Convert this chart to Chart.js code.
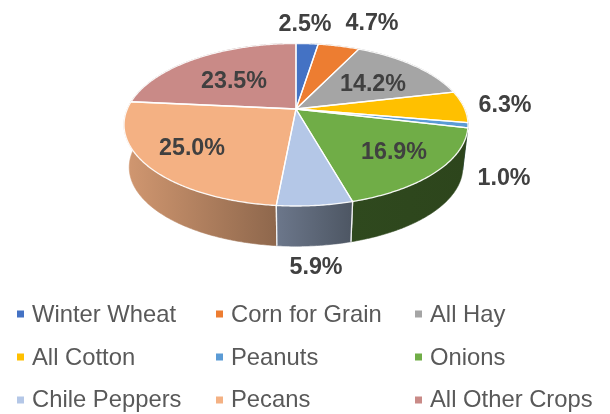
<!DOCTYPE html>
<html><head><meta charset="utf-8">
<script src="https://cdn.jsdelivr.net/npm/chart.js@4"></script>
<style>html,body{margin:0;padding:0;background:#fff}canvas{display:block;filter:blur(.4px)}</style>
</head><body><canvas id="c" width="610" height="414"></canvas>
<script>
const categories = ["Winter Wheat","Corn for Grain","All Hay","All Cotton","Peanuts","Onions","Chile Peppers","Pecans","All Other Crops"];
const shares = [2.5,4.7,14.2,6.3,1.0,16.9,5.9,25.0,23.5];
const colors = ["#4472C4","#ED7D31","#A5A5A5","#FFC000","#5B9BD5","#70AD47","#B4C7E7","#F4B183","#C98A87"];
const wallShadeLeft  = [.6,.6,.6,.6,.6,.42,.6,.86,.6];
const wallShadeRight = [.6,.6,.6,.6,.6,.40,.43,.58,.6];
const labelSpots = [[305,24],[372,23],[373,84],[505,105],[504,178],[394,152],[316,267],[192,148],[234,81]];
const legendMarkX = [17,216,415], legendTextX = [32,231,430], legendMarkY = [314,357,400], legendBase = [322,365,407];

const G = {cx:296, top:{y:109,a:168.7,b:78.2}, bot:{y:152,a:163.6,b:75.9}, k:.194};
function proj(ang, f){
  const u=Math.cos(ang), v=Math.sin(ang), w=1-G.k*v;
  return [G.cx+f.a*u/w, f.y+f.b*v/w];
}
function shade(hex,s){
  const n=parseInt(hex.slice(1),16);
  return `rgb(${Math.round((n>>16&255)*s)},${Math.round((n>>8&255)*s)},${Math.round((n&255)*s)})`;
}
function pts(a0,a1,f){
  const n=Math.max(2,Math.ceil(Math.abs(a1-a0)/0.01)),o=[];
  for(let i=0;i<=n;i++)o.push(proj(a0+(a1-a0)*i/n,f));
  return o;
}
const pie3d = {
  id:'pie3d',
  beforeDatasetsDraw(chart){
    const ctx=chart.ctx, arcs=chart.getDatasetMeta(0).data;
    const front=Math.PI/2;
    const order=arcs.map((a,i)=>i).sort((p,q)=>{
      const d=i=>{let m=(arcs[i].startAngle+arcs[i].endAngle)/2-front;m=Math.atan2(Math.sin(m),Math.cos(m));return Math.abs(m);};
      return d(q)-d(p);
    });
    ctx.save();
    ctx.lineJoin='round';
    for(const i of order){
      const a=arcs[i], t=pts(a.startAngle,a.endAngle,G.top), b=pts(a.startAngle,a.endAngle,G.bot).reverse();
      const xs=t.concat(b).map(p=>p[0]);
      const g=ctx.createLinearGradient(Math.min(...xs),0,Math.max(...xs),0);
      g.addColorStop(0,shade(colors[i],wallShadeLeft[i]));
      g.addColorStop(1,shade(colors[i],wallShadeRight[i]));
      ctx.beginPath();
      t.concat(b).forEach((p,j)=>j?ctx.lineTo(p[0],p[1]):ctx.moveTo(p[0],p[1]));
      ctx.closePath();
      ctx.fillStyle=g; ctx.fill();
      ctx.strokeStyle=g; ctx.lineWidth=.6; ctx.stroke();
      for(const ang of [a.startAngle,a.endAngle]){
        const p=proj(ang,G.top), q=proj(ang,G.bot);
        if(Math.sin(ang)>0.3){
          ctx.beginPath();ctx.moveTo(p[0],p[1]);ctx.lineTo(q[0],q[1]);
          ctx.strokeStyle='rgba(255,255,255,.9)';ctx.lineWidth=1.3;ctx.stroke();
        }
      }
    }
    arcs.forEach((a,i)=>{
      const t=pts(a.startAngle,a.endAngle,G.top);
      ctx.beginPath();ctx.moveTo(G.cx,G.top.y);
      t.forEach(p=>ctx.lineTo(p[0],p[1]));
      ctx.closePath();
      ctx.fillStyle=colors[i];ctx.fill();
    });
    arcs.forEach((a,i)=>{
      const t=pts(a.startAngle,a.endAngle,G.top);
      ctx.beginPath();ctx.moveTo(G.cx,G.top.y);
      t.forEach(p=>ctx.lineTo(p[0],p[1]));
      ctx.closePath();
      ctx.strokeStyle='rgba(255,255,255,.92)';ctx.lineWidth=1.3;ctx.stroke();
    });
    ctx.restore();
    return false;
  },
  afterDraw(chart){
    const ctx=chart.ctx;
    ctx.save();
    ctx.textBaseline='middle';ctx.textAlign='center';
    ctx.font='bold 23.3px "Liberation Sans"';ctx.fillStyle='#404040';
    shares.forEach((v,i)=>ctx.fillText(v.toFixed(1)+'%',labelSpots[i][0],labelSpots[i][1]+1));
    ctx.textAlign='left';ctx.textBaseline='alphabetic';
    ctx.font='23.8px "Liberation Sans"';
    categories.forEach((c,i)=>{
      const col=i%3, row=Math.floor(i/3);
      ctx.fillStyle=colors[i];ctx.fillRect(legendMarkX[col],legendMarkY[row]-3.5,7,7);
      ctx.fillStyle='#595959';ctx.fillText(c,legendTextX[col],legendBase[row]);
    });
    ctx.restore();
  }
};
new Chart(document.getElementById('c'),{
  type:'pie',
  data:{labels:categories,datasets:[{data:shares,backgroundColor:colors}]},
  options:{responsive:false,animation:false,plugins:{legend:{display:false},tooltip:{enabled:false}}},
  plugins:[pie3d]
});
</script></body></html>
